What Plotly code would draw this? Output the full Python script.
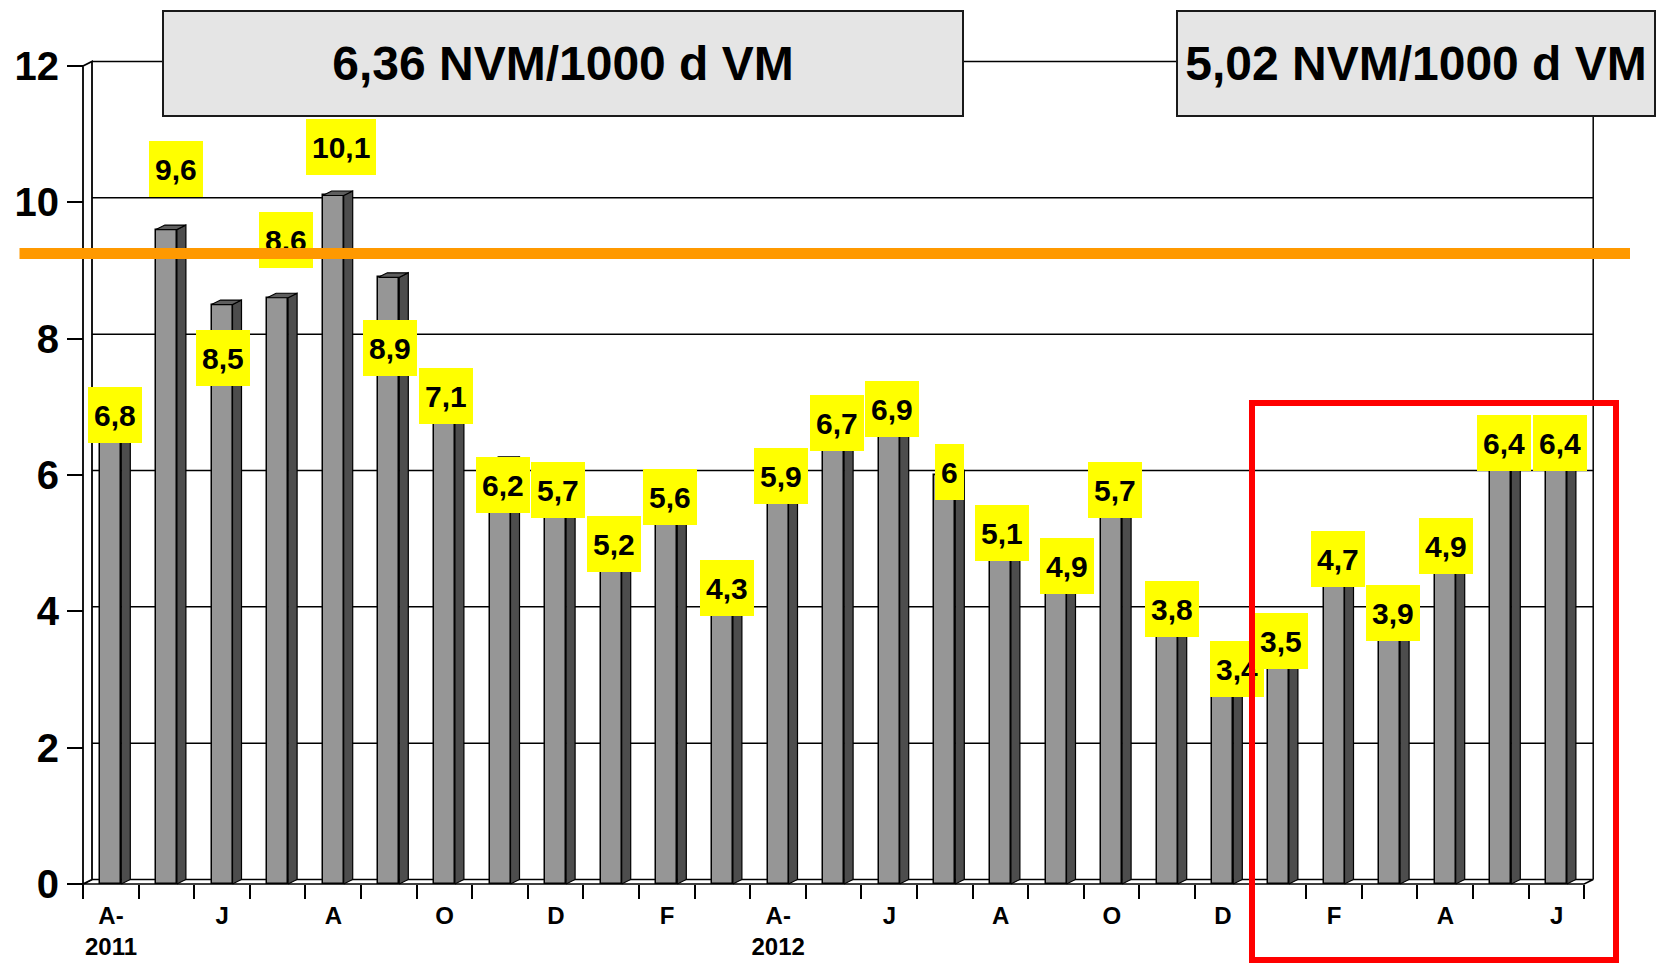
import plotly.graph_objects as go

# ---------------- data ----------------
MONTH_TICKS = ["A-<br>2011", "", "J", "", "A", "", "O", "", "D", "", "F", "",
               "A-<br>2012", "", "J", "", "A", "", "O", "", "D", "", "F", "",
               "A", "", "J"]
VALUES = [6.8, 9.6, 8.5, 8.6, 10.1, 8.9, 7.1, 6.2, 5.7, 5.2, 5.6, 4.3, 5.9, 6.7,
          6.9, 6.0, 5.1, 4.9, 5.7, 3.8, 3.4, 3.5, 4.7, 3.9, 4.9, 6.4, 6.4]
PERIOD_RATES = ["6,36 NVM/1000 d VM", "5,02 NVM/1000 d VM"]
TARGET = 9.25
Y_TICKS = [0, 2, 4, 6, 8, 10, 12]

# label offsets in pixels (style, not data)
LABEL_DX = [4, 10, 1, 8, 8, 1, 2, 3, 2, 3, 3, 5, 3, 3, 3, 5, 2, 11, 3, 5, 14, 3, 4, 3, 1, 3, 4]
LABEL_DY = [-5, -61, 53, -58, -48, 71, -4, 24, -5, 14, -5, -3, -6, -4, -5, -3, -3, 16,
            -5, -16, 17, -4, -5, -5, -4, -5, -5]

# ---------------- geometry ----------------
W, H = 1661, 964
X0_PX, PX_PER_X = 83.0, 55.6
Y0_PX, PX_PER_Y = 884.0, 68.17
N = len(VALUES)
idx = list(range(N))


def xd(px):
    return (px - X0_PX) / PX_PER_X - 0.5


def yd(py):
    return (Y0_PX - py) / PX_PER_Y


DX = 9 / PX_PER_X
DY = 4.5 / PX_PER_Y
BW = 21 / PX_PER_X
YMAX = Y_TICKS[-1]

FONT = "Liberation Sans, Arial, sans-serif"

fig = go.Figure()

# front faces
fig.add_trace(go.Bar(x=idx, y=VALUES, width=BW, marker=dict(color="#969696", line=dict(color="#000", width=1.5)),
                     hoverinfo="skip", showlegend=False))

# side faces and top faces
sx, sy, tx, ty = [], [], [], []
for i, v in zip(idx, VALUES):
    r = i + BW / 2
    l = i - BW / 2
    sx += [r, r + DX, r + DX, r, r, None]
    sy += [0, DY, v + DY, v, 0, None]
    tx += [l, l + DX, r + DX, r, l, None]
    ty += [v, v + DY, v + DY, v, v, None]
fig.add_trace(go.Scatter(x=sx, y=sy, mode="lines", fill="toself", fillcolor="#4d4d4d",
                         line=dict(color="#000", width=1.2), hoverinfo="skip", showlegend=False))
fig.add_trace(go.Scatter(x=tx, y=ty, mode="lines", fill="toself", fillcolor="#5e5e5e",
                         line=dict(color="#000", width=1.2), hoverinfo="skip", showlegend=False))

shapes = []
xl, xr = -0.5, N - 0.5
# floor
shapes.append(dict(type="path", xref="x", yref="y", layer="below",
                   path=f"M {xl},0 L {xr},0 L {xr+DX},{DY} L {xl+DX},{DY} Z",
                   fillcolor="white", line=dict(color="#000", width=1.5)))
# left wall
shapes.append(dict(type="path", xref="x", yref="y", layer="below",
                   path=f"M {xl},0 L {xl},{YMAX} L {xl+DX},{YMAX+DY} L {xl+DX},{DY} Z",
                   fillcolor="white", line=dict(color="#000", width=1.8)))
# back wall gridlines
for k in Y_TICKS[1:]:
    shapes.append(dict(type="line", xref="x", yref="y", layer="below",
                       x0=xl + DX, x1=xr + DX, y0=k + DY, y1=k + DY,
                       line=dict(color="#000", width=1.5)))
shapes.append(dict(type="line", xref="x", yref="y", layer="below",
                   x0=xr + DX, x1=xr + DX, y0=DY, y1=YMAX + DY,
                   line=dict(color="#000", width=1.5)))

annotations = []
# value labels
for i, v in zip(idx, VALUES):
    txt = ("%g" % v).replace(".", ",")
    annotations.append(dict(x=i, y=v, xref="x", yref="y", text=txt, showarrow=False,
                            xshift=LABEL_DX[i], yshift=-LABEL_DY[i],
                            xanchor="center", yanchor="middle",
                            font=dict(family=FONT, size=30, color="#000", weight="bold"),
                            bgcolor="#FFFF00", borderwidth=0, borderpad=6, height=44))

# period boxes
box_specs = [(162, 964), (1176, 1656)]
for (x0p, x1p), txt in zip(box_specs, PERIOD_RATES):
    annotations.append(dict(x=(x0p + x1p) / 2 / W, y=1 - 63.5 / H, xref="paper", yref="paper",
                            text=txt, showarrow=False, xanchor="center", yanchor="middle",
                            width=(x1p - x0p) - 4, height=103, borderpad=0,
                            bgcolor="#e5e5e5", bordercolor="#1a1a1a", borderwidth=2,
                            font=dict(family=FONT, size=48, color="#000", weight="bold")))

# red highlight rectangle
rl, rr, rt, rb = 1252, 1615.7, 403, 960
annotations.append(dict(x=xd((rl + rr) / 2), y=yd((rt + rb) / 2), xref="x", yref="y",
                        text=" ", showarrow=False, xanchor="center", yanchor="middle",
                        width=(rr - rl) - 6, height=(rb - rt) - 6, borderpad=0,
                        bgcolor="rgba(0,0,0,0)", bordercolor="#FF0000", borderwidth=6,
                        font=dict(size=1)))

# orange target line (drawn on top)
annotations.append(dict(x=xd(1630), y=TARGET, ax=xd(18), ay=TARGET, xref="x", yref="y",
                        axref="x", ayref="y", text=" ", showarrow=True, arrowhead=0,
                        arrowwidth=11, arrowcolor="#FF9900", standoff=0, startstandoff=0,
                        font=dict(size=1)))

fig.update_layout(
    width=W, height=H,
    margin=dict(l=0, r=0, t=0, b=0, pad=0),
    paper_bgcolor="white", plot_bgcolor="white",
    showlegend=False, bargap=0,
    shapes=shapes, annotations=annotations,
    xaxis=dict(range=[xd(0), xd(W)], anchor="free", position=(H - Y0_PX) / H,
               showgrid=False, zeroline=False, showline=False,
               tickmode="array", tickvals=[i - 0.5 for i in idx] + [N - 0.5],
               ticktext=MONTH_TICKS + [""], ticklabelshift=28, ticklabelstandoff=-4,
               ticks="outside", ticklen=14, tickwidth=2, tickcolor="#000",
               tickfont=dict(family=FONT, size=24, color="#000", weight="bold"),
               automargin=False, fixedrange=True),
    yaxis=dict(range=[yd(H), yd(0)], anchor="free", position=X0_PX / W, side="left",
               showgrid=False, zeroline=False, showline=False,
               tickmode="array", tickvals=Y_TICKS,
               ticks="outside", ticklen=16, tickwidth=2, tickcolor="#000",
               tickfont=dict(family=FONT, size=40, color="#000", weight="bold"),
               automargin=False, fixedrange=True),
)

fig.write_html("out.html", config={"displayModeBar": False},
               post_script="document.body.style.margin='0';document.body.style.overflow='hidden';")
